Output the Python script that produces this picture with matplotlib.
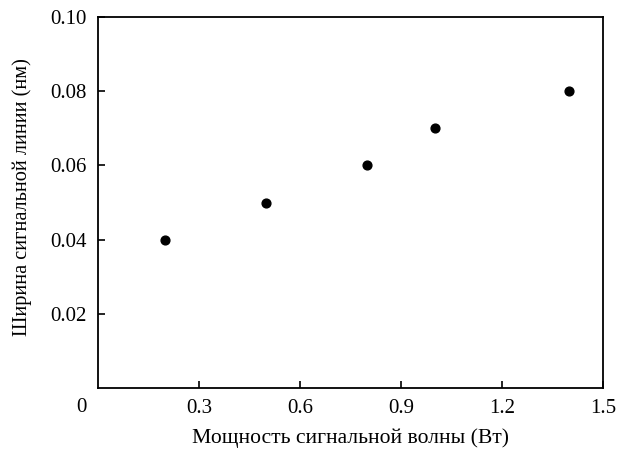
import matplotlib
matplotlib.use("Agg")
from matplotlib import pyplot as plt

# signal wave power (W) vs signal line width (nm)
power = [0.2, 0.5, 0.8, 1.0, 1.4]
width = [0.04, 0.05, 0.06, 0.07, 0.08]

x_ticks = [0.3, 0.6, 0.9, 1.2, 1.5]
y_ticks = [0.02, 0.04, 0.06, 0.08, 0.10]

plt.rcParams['font.family'] = ['Liberation Serif', 'DejaVu Serif']

fig = plt.figure(figsize=(6.19, 4.5), dpi=100)
ax = fig.add_axes([98 / 619, 1 - 388 / 450, 505 / 619, 371 / 450])

ax.scatter(power, width, s=40, color='black', zorder=3)

ax.set_xlim(0, 1.5)
ax.set_ylim(0, 0.10)
ax.set_xticks(x_ticks)
ax.set_xticklabels([f"{v:.1f}" for v in x_ticks])
ax.set_yticks(y_ticks)
ax.set_yticklabels([f"{v:.2f}" for v in y_ticks])
ax.tick_params(direction='in', length=5, width=1.2, labelsize=15, pad=8)
for s in ax.spines.values():
    s.set_linewidth(1.3)

# shared origin label
ax.annotate('0', xy=(0, 0), xytext=(-12, -14), textcoords='offset points',
            ha='center', va='center', fontsize=15)

ax.set_xlabel('Мощность сигнальной волны (Вт)', fontsize=15.6, labelpad=7)
ax.set_ylabel('Ширина сигнальной линии (нм)', fontsize=14.6, labelpad=13)
ax.yaxis.label.set_y(0.515)

fig.savefig('out.png', dpi=100)
